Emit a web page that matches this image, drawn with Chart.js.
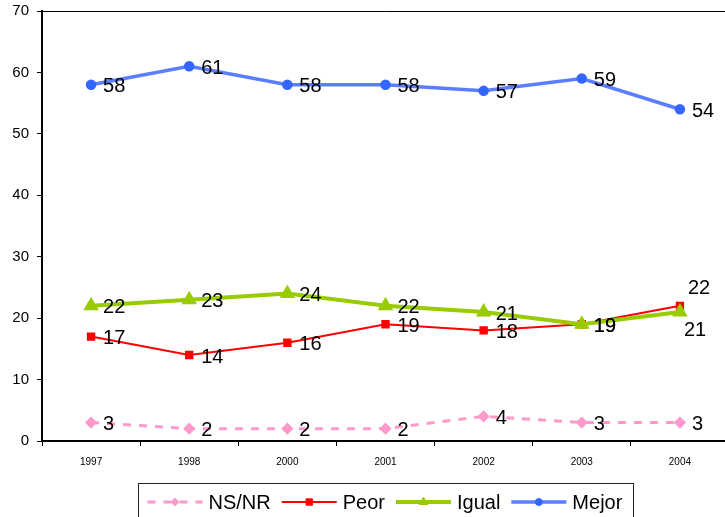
<!DOCTYPE html>
<html>
<head>
<meta charset="utf-8">
<script src="https://cdn.jsdelivr.net/npm/chart.js@4"></script>
<style>
  html, body { margin: 0; padding: 0; overflow: hidden; background: #fff; }
  #wrap { position: absolute; left: 0; top: 0; width: 738px; height: 517px; }
</style>
</head>
<body>
<div id="wrap"><canvas id="evolChart" width="738" height="517"></canvas></div>
<script>
const years = ['1997', '1998', '2000', '2001', '2002', '2003', '2004'];
const nsnr = [3, 2, 2, 2, 4, 3, 3];
const peor = [17, 14, 16, 19, 18, 19, 22];
const igual = [22, 23, 24, 22, 21, 19, 21];
const mejor = [58, 61, 58, 58, 57, 59, 54];
const yTicks = [0, 10, 20, 30, 40, 50, 60, 70];

const FONT = 'Arial, "Liberation Sans", sans-serif';

// value labels next to each point; a few are moved so they don't collide
const labelShift = {
    'Peor': { 6: [8, -17] },
    'Igual': { 6: [4, 18] }
};

const valueLabels = {
    id: 'valueLabels',
    afterDatasetsDraw(chart) {
        const ctx = chart.ctx;
        ctx.save();
        ctx.font = '20px ' + FONT;
        ctx.fillStyle = '#000';
        ctx.textAlign = 'left';
        ctx.textBaseline = 'middle';
        chart.data.datasets.forEach((ds, di) => {
            const meta = chart.getDatasetMeta(di);
            meta.data.forEach((pt, i) => {
                const shift = (labelShift[ds.label] || {})[i] || [12, 2];
                ctx.fillText(String(ds.data[i]), pt.x + shift[0], pt.y + shift[1]);
            });
        });
        ctx.restore();
    }
};

// top border of the plot area
const topBorder = {
    id: 'topBorder',
    afterDraw(chart) {
        const a = chart.chartArea;
        const ctx = chart.ctx;
        ctx.save();
        ctx.strokeStyle = '#000';
        ctx.lineWidth = 1;
        ctx.beginPath();
        ctx.moveTo(a.left, a.top + 0.5);
        ctx.lineTo(a.right, a.top + 0.5);
        ctx.stroke();
        ctx.restore();
    }
};

// boxed legend with a line sample and marker for each series
const boxLegend = {
    id: 'boxLegend',
    afterDraw(chart) {
        const ctx = chart.ctx;
        const sample = 55, gapText = 6, gapItem = 11, padL = 9, padR = 11;
        ctx.save();
        ctx.font = '20px ' + FONT;
        const items = chart.data.datasets.map(ds => ({ ds, w: ctx.measureText(ds.label).width }));
        const total = items.reduce((s, it) => s + sample + gapText + it.w, 0) + gapItem * (items.length - 1);
        const cx = (chart.chartArea.left + chart.chartArea.right) / 2;
        const boxW = Math.round(total + padL + padR);
        const boxL = Math.round(cx - boxW / 2) + 0.5;
        const top = 483.5, cy = 502;
        ctx.strokeStyle = '#222';
        ctx.lineWidth = 1;
        ctx.strokeRect(boxL, top, boxW, 60);
        let x = boxL + padL;
        items.forEach(it => {
            const ds = it.ds;
            ctx.save();
            ctx.strokeStyle = ds.borderColor;
            ctx.lineWidth = ds.borderWidth;
            ctx.setLineDash(ds.borderDash || []);
            ctx.beginPath();
            ctx.moveTo(x, cy);
            ctx.lineTo(x + sample, cy);
            ctx.stroke();
            ctx.restore();
            ctx.save();
            ctx.fillStyle = ds.pointBackgroundColor;
            ctx.strokeStyle = ds.pointBorderColor;
            Chart.helpers.drawPoint(ctx, {
                pointStyle: ds.pointStyle,
                radius: ds.pointRadius,
                rotation: 0,
                borderWidth: 1
            }, x + sample / 2, cy);
            ctx.restore();
            ctx.fillStyle = '#000';
            ctx.textAlign = 'left';
            ctx.textBaseline = 'middle';
            ctx.fillText(ds.label, x + sample + gapText, cy + 1);
            x += sample + gapText + it.w + gapItem;
        });
        ctx.restore();
    }
};

const ctx = document.getElementById('evolChart').getContext('2d');
new Chart(ctx, {
    type: 'line',
    data: {
        labels: years,
        datasets: [{
            label: 'NS/NR',
            data: nsnr,
            borderColor: '#FF99CC',
            borderWidth: 3,
            borderDash: [8, 8],
            pointStyle: 'rectRot',
            pointRadius: 4,
            pointBackgroundColor: '#FF99CC',
            pointBorderColor: '#FF99CC',
            order: 4
        }, {
            label: 'Peor',
            data: peor,
            borderColor: '#FF0000',
            borderWidth: 2,
            pointStyle: 'rect',
            pointRadius: 4.5,
            pointBackgroundColor: '#FF0000',
            pointBorderColor: '#FF0000',
            order: 3
        }, {
            label: 'Igual',
            data: igual,
            borderColor: '#99CC00',
            borderWidth: 4,
            pointStyle: 'triangle',
            pointRadius: 5,
            pointBackgroundColor: '#99CC00',
            pointBorderColor: '#99CC00',
            order: 2
        }, {
            label: 'Mejor',
            data: mejor,
            borderColor: '#5A7EFF',
            borderWidth: 3.5,
            pointStyle: 'circle',
            pointRadius: 3.5,
            pointBackgroundColor: '#3366FF',
            pointBorderColor: '#3366FF',
            order: 1
        }]
    },
    options: {
        responsive: false,
        animation: false,
        layout: { padding: { top: 11, right: 2, left: 0, bottom: 0 } },
        plugins: {
            legend: { display: false },
            tooltip: { enabled: false }
        },
        elements: { line: { tension: 0 } },
        scales: {
            x: {
                type: 'category',
                offset: true,
                afterFit: scale => {
                    scale.height = 76;
                    scale.paddingLeft = 0;
                    scale.paddingRight = 0;
                },
                grid: {
                    display: true,
                    offset: true,
                    drawOnChartArea: false,
                    drawTicks: true,
                    tickLength: 5,
                    color: '#000'
                },
                border: { display: true, color: '#000', width: 2 },
                ticks: {
                    color: '#000',
                    font: { family: FONT, size: 10 },
                    padding: 10,
                    maxRotation: 0
                }
            },
            y: {
                min: 0,
                max: 70,
                afterFit: scale => {
                    scale.width = 42;
                    scale.paddingTop = 0;
                    scale.paddingBottom = 0;
                },
                afterBuildTicks: scale => { scale.ticks = yTicks.map(v => ({ value: v })); },
                grid: {
                    display: true,
                    drawOnChartArea: false,
                    drawTicks: true,
                    tickLength: 5,
                    color: '#000'
                },
                border: { display: true, color: '#000', width: 2 },
                ticks: {
                    color: '#000',
                    font: { family: FONT, size: 15 },
                    padding: 8
                }
            }
        }
    },
    plugins: [valueLabels, topBorder, boxLegend]
});
</script>
</body>
</html>
